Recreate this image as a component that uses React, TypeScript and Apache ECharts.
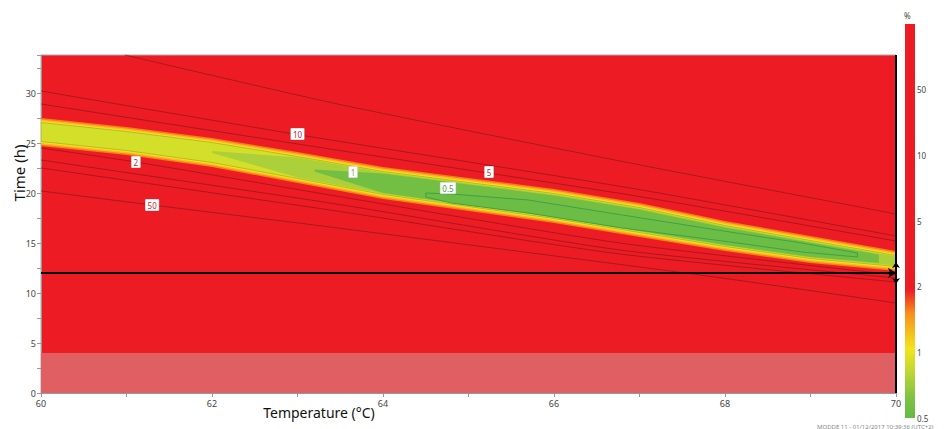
import React, { useEffect, useRef } from "react";
import * as echarts from "echarts";

// ---- data ----
const xTickLabels = ["60", "62", "64", "66", "68", "70"];
const yTickLabels = ["0", "5", "10", "15", "20", "25", "30"];
const colorbarLabels = ["0.5", "1", "2", "5", "10", "50", ""];

// band (filled contour levels) sampled at these temperatures
const bandTemps = [60, 61, 62, 63, 64, 65, 66, 67, 68, 69, 70];
const lvl2Upper = [27.5, 26.6, 25.5, 24.1, 22.6, 21.5, 20.4, 19.0, 17.2, 15.7, 14.2];
const lvl2Lower = [24.7, 23.8, 22.6, 21.0, 19.4, 18.2, 17.0, 15.6, 14.2, 13.0, 12.2];
const lvl15Upper = [27.35, 26.45, 25.35, 23.95, 22.45, 21.35, 20.25, 18.85, 17.05, 15.55, 14.05];
const lvl15Lower = [24.85, 23.95, 22.75, 21.15, 19.55, 18.35, 17.15, 15.75, 14.35, 13.15, 12.35];
const lvl12Upper = [27.2, 26.3, 25.2, 23.8, 22.3, 21.2, 20.1, 18.7, 16.9, 15.4, 13.9];
const lvl12Lower = [25.0, 24.1, 22.9, 21.3, 19.7, 18.5, 17.3, 15.9, 14.5, 13.3, 12.5];
const lvl1Upper = [27.05, 26.15, 25.05, 23.65, 22.15, 21.05, 19.95, 18.55, 16.75, 15.25, 13.75];
const lvl1Lower = [25.15, 24.25, 23.05, 21.45, 19.85, 18.65, 17.45, 16.05, 14.65, 13.45, 12.65];
const lvl085Temps = [62, 63, 64, 65, 66, 67, 68, 69, 70];
const lvl085Upper = [24.2, 23.55, 22.05, 20.95, 19.85, 18.45, 16.65, 15.15, 13.65];
const lvl085Lower = [24.0, 21.55, 19.95, 18.75, 17.55, 16.15, 14.75, 13.55, 12.75];
const lvl07Temps = [63.2, 64, 65, 66, 67, 68, 69, 69.8];
const lvl07Upper = [22.35, 21.95, 20.85, 19.75, 18.35, 16.55, 15.05, 13.85];
const lvl07Lower = [22.15, 20.0, 18.8, 17.6, 16.2, 14.8, 13.6, 13.0];
// 0.5 contour (closed)
const contour05 = [
  [64.5, 20.0], [64.8, 19.9], [65.7, 19.3], [66.8, 17.8], [68.06, 16.1], [68.9, 15.0], [69.55, 14.0],
  [69.55, 13.6], [68.9, 14.1], [68.06, 15.1], [66.8, 16.5], [65.7, 18.0], [64.8, 19.0], [64.5, 19.6],
];

// contour lines in the red region
const line50Top = [[60.98, 33.8], [63.47, 28.9], [66.89, 23.0], [70, 17.9]];
const line10Top = [[60, 30.2], [63.03, 25.8], [66.89, 20.5], [70, 15.7]];
const line5Top = [[60, 28.9], [63.38, 24.4], [66.89, 19.8], [70, 15.2]];
const line2Bottom = [[60, 24.5], [61.11, 23.1], [63.38, 19.8], [66.77, 15.0], [70, 11.8]];
const line5Bottom = [[60, 23.3], [63.38, 19.0], [66.77, 14.3], [70, 11.5]];
const line10Bottom = [[60, 22.5], [63.38, 18.3], [66.77, 13.9], [70, 11.1]];
const line50Bottom = [[60, 20.2], [61.3, 18.8], [63.38, 16.6], [67.71, 11.8], [70, 9.0]];

// contour labels [temp, time, text]
const contourLabels: [number, number, string][] = [
  [63.0, 25.9, "10"],
  [61.11, 23.1, "2"],
  [61.3, 18.8, "50"],
  [63.65, 22.1, "1"],
  [64.76, 20.5, "0.5"],
  [65.24, 22.1, "5"],
];

const excludedTime = [0, 4];
const crossTemp = 70;
const crossTime = 12;

const RED = "#ed1c24";
const FONT = '"Noto Sans", "Open Sans", sans-serif';

function bandPolygon(temps: number[], upper: number[], lower: number[]) {
  const up = temps.map((t, i) => [t, upper[i]]);
  const lo = temps.map((t, i) => [t, lower[i]]).reverse();
  return up.concat(lo);
}

function polySeries(points: number[][], fill: string, stroke?: string, lw?: number, extra?: any) {
  return {
    type: "custom",
    xAxisIndex: 0,
    yAxisIndex: 0,
    clip: true,
    silent: true,
    data: points,
    encode: { x: 0, y: 1 },
    renderItem: (params: any, api: any) => {
      if (params.dataIndex !== 0) return null;
      const pts = points.map((p) => api.coord(p));
      return {
        type: "polygon",
        shape: { points: pts },
        style: { fill, stroke: stroke || "none", lineWidth: lw || 0 },
      };
    },
    ...(extra || {}),
  };
}

function lineSeries(data: number[][], extra?: any) {
  return {
    type: "line",
    xAxisIndex: 0,
    yAxisIndex: 0,
    data,
    showSymbol: false,
    symbol: "none",
    silent: true,
    smooth: 0.2,
    lineStyle: { color: "#7a1518", width: 0.8, opacity: 0.75 },
    ...(extra || {}),
  };
}

export default function App() {
  const ref = useRef<HTMLDivElement>(null);
  useEffect(() => {
    if (!ref.current) return;
    const chart = echarts.init(ref.current, null, { renderer: "svg" });
    const labelColor: Record<string, string> = {
      "10": "#c1272d",
      "2": "#c1272d",
      "50": "#c1272d",
      "5": "#c1272d",
      "1": "#8ca83a",
      "0.5": "#3f9e45",
    };
    const option: any = {
      animation: false,
      textStyle: { fontFamily: FONT },
      grid: [
        {
          left: 41,
          right: 54,
          top: 55,
          bottom: 36,
          show: true,
          backgroundColor: RED,
          borderColor: "#aaa",
          borderWidth: 1,
        },
        { left: 905, width: 10, top: 24, bottom: 11 },
      ],
      xAxis: [
        {
          type: "value",
          gridIndex: 0,
          min: 60,
          max: 70,
          interval: 1,
          axisLine: { show: true, lineStyle: { color: "#999" } },
          axisTick: { show: true, length: 4, lineStyle: { color: "#999" } },
          splitLine: { show: false },
          axisLabel: {
            fontSize: 9,
            color: "#444",
            margin: 6,
            formatter: (v: number) => (xTickLabels.includes(String(v)) ? String(v) : ""),
          },
        },
        {
          type: "category",
          gridIndex: 1,
          data: [""],
          show: false,
        },
      ],
      yAxis: [
        {
          type: "value",
          gridIndex: 0,
          min: 0,
          max: 33.8,
          interval: 2.5,
          axisLine: { show: true, lineStyle: { color: "#999" } },
          axisTick: { show: true, length: 4, lineStyle: { color: "#999" } },
          splitLine: { show: false },
          axisLabel: {
            fontSize: 9,
            color: "#444",
            margin: 5,
            formatter: (v: number) => (yTickLabels.includes(String(v)) ? String(v) : ""),
          },
        },
        {
          type: "value",
          gridIndex: 1,
          min: 0,
          max: 6,
          interval: 1,
          position: "right",
          axisLine: { show: false },
          axisTick: { show: false },
          splitLine: { show: false },
          axisLabel: {
            fontSize: 8,
            color: "#444",
            margin: 2,
            formatter: (v: number) => colorbarLabels[Math.round(v)] || "",
          },
        },
      ],
      series: [
        polySeries(bandPolygon(bandTemps, lvl2Upper, lvl2Lower), "#f47e20", undefined, 0, {
          markArea: {
            silent: true,
            itemStyle: { color: "#e05f63", opacity: 1 },
            data: [[{ yAxis: excludedTime[0] }, { yAxis: excludedTime[1] }]],
          },
        }),
        polySeries(bandPolygon(bandTemps, lvl15Upper, lvl15Lower), "#fbb91c"),
        polySeries(bandPolygon(bandTemps, lvl12Upper, lvl12Lower), "#f1e41e"),
        polySeries(bandPolygon(bandTemps, lvl1Upper, lvl1Lower), "#d4df2a", "rgba(120,130,50,0.5)", 0.8),
        polySeries(bandPolygon(lvl085Temps, lvl085Upper, lvl085Lower), "#abd039"),
        polySeries(bandPolygon(lvl07Temps, lvl07Upper, lvl07Lower), "#72bf44"),
        polySeries(contour05, "#6bbd45", "#3a9e45", 0.9),
        lineSeries(line50Top, {
          clip: false,
          markLine: {
            silent: true,
            animation: false,
            symbol: ["none", "none"],
            label: { show: false },
            lineStyle: { color: "#000", width: 2, type: "solid" },
            data: [
              [
                { coord: [60, crossTime], symbol: "none" },
                { coord: [crossTemp, crossTime], symbol: "arrow", symbolSize: 8 },
              ],
              [
                { coord: [crossTemp, 33.8], symbol: "none" },
                { coord: [crossTemp, 0], symbol: "none" },
              ],
              [
                { coord: [crossTemp, crossTime - 1.1], symbol: "arrow", symbolSize: 6 },
                { coord: [crossTemp, crossTime + 1.1], symbol: "arrow", symbolSize: 6 },
              ],
            ],
          },
        }),
        lineSeries(line10Top),
        lineSeries(line5Top),
        lineSeries(line2Bottom),
        lineSeries(line5Bottom),
        lineSeries(line10Bottom),
        lineSeries(line50Bottom),
        {
          type: "scatter",
          xAxisIndex: 0,
          yAxisIndex: 0,
          silent: true,
          symbolSize: 1,
          itemStyle: { color: "transparent", opacity: 1 },
          data: contourLabels.map((d) => ({
            value: [d[0], d[1]],
            label: { color: labelColor[d[2]] },
            name: d[2],
          })),
          label: {
            show: true,
            position: "inside",
            formatter: (p: any) => p.name,
            fontSize: 8,
            opacity: 1,
            backgroundColor: "#ffffff",
            borderColor: "#bbb",
            borderWidth: 0.5,
            padding: [2, 2, 1, 2],
          },
          z: 5,
        },
        {
          type: "bar",
          xAxisIndex: 1,
          yAxisIndex: 1,
          silent: true,
          barWidth: "100%",
          data: [6],
          itemStyle: {
            color: new echarts.graphic.LinearGradient(0, 0, 0, 1, [
              { offset: 0, color: RED },
              { offset: 0.675, color: RED },
              { offset: 0.735, color: "#f7901e" },
              { offset: 0.825, color: "#f2e51c" },
              { offset: 0.885, color: "#bcd635" },
              { offset: 0.95, color: "#7dc242" },
              { offset: 1, color: "#66b946" },
            ]),
          },
        },
      ],
      graphic: [
        {
          type: "text",
          x: 19,
          y: 173,
          rotation: Math.PI / 2,
          style: {
            text: "Time (h)",
            font: `15px ${FONT}`,
            fill: "#111",
            textAlign: "center",
            textVerticalAlign: "middle",
          },
        },
        {
          type: "text",
          x: 319,
          y: 412,
          style: {
            text: "Temperature (°C)",
            font: `14px ${FONT}`,
            fill: "#111",
            textAlign: "center",
            textVerticalAlign: "middle",
          },
        },
        {
          type: "text",
          x: 904,
          y: 15,
          style: {
            text: "%",
            font: `8px ${FONT}`,
            fill: "#444",
            textAlign: "left",
            textVerticalAlign: "middle",
          },
        },
        {
          type: "text",
          x: 817,
          y: 426.5,
          style: {
            text: "MODDE 11 - 01/12/2017 10:39:36 (UTC+2)",
            font: `6px ${FONT}`,
            fill: "#888",
            textAlign: "left",
            textVerticalAlign: "middle",
          },
        },
      ],
    };
    chart.setOption(option);
    return () => chart.dispose();
  }, []);
  return (
    <div
      ref={ref}
      style={{ position: "fixed", left: 0, top: 0, width: 950, height: 429, background: "#fff" }}
    />
  );
}
